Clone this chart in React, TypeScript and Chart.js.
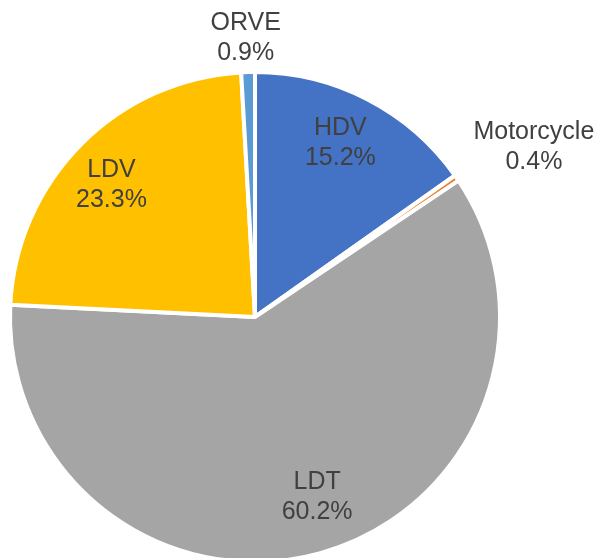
import React, { useEffect, useRef } from "react";
import { Chart, registerables } from "chart.js";

Chart.register(...registerables);

const categories = ["HDV", "Motorcycle", "LDT", "LDV", "ORVE"];
const values = [15.2, 0.4, 60.2, 23.3, 0.9];
const valueLabels = ["15.2%", "0.4%", "60.2%", "23.3%", "0.9%"];
const colors = ["#4472C4", "#ED7D31", "#A5A5A5", "#FFC000", "#5B9BD5"];
// label placement relative to slice: radius fraction and angle nudge (degrees)
const labelRadius = [0.79, 1.333, 0.776, 0.795, 1.14];
const labelAngleNudge = [-1.2, 3.2, -3.6, -2.3, -0.3];

const labelPlugin = {
  id: "sliceLabels",
  afterDatasetsDraw(chart: any) {
    const ctx = chart.ctx;
    const meta = chart.getDatasetMeta(0);
    ctx.save();
    ctx.font = '25px "Liberation Sans", Arial, sans-serif';
    ctx.fillStyle = "#404040";
    ctx.textAlign = "center";
    ctx.textBaseline = "middle";
    meta.data.forEach((arc: any, i: number) => {
      const p = arc.getProps(["x", "y", "startAngle", "endAngle", "outerRadius"], true);
      const mid = (p.startAngle + p.endAngle) / 2 + (labelAngleNudge[i] * Math.PI) / 180;
      const r = p.outerRadius * labelRadius[i];
      const cx = p.x + Math.cos(mid) * r;
      const cy = p.y + Math.sin(mid) * r;
      ctx.fillText(categories[i], cx, cy - 15);
      ctx.fillText(valueLabels[i], cx, cy + 15);
    });
    ctx.restore();
  },
};

export default function App() {
  const ref = useRef<HTMLCanvasElement>(null);
  useEffect(() => {
    document.body.style.margin = "0";
    const chart = new Chart(ref.current!, {
      type: "pie",
      data: {
        labels: categories,
        datasets: [
          {
            data: values,
            backgroundColor: colors,
            borderColor: "#ffffff",
            borderWidth: 4,
          },
        ],
      },
      options: {
        responsive: false,
        animation: false,
        radius: 245,
        layout: { padding: { left: 0, right: 88, top: 0, bottom: 6 } },
        plugins: {
          legend: { display: false },
          tooltip: { enabled: false },
        },
      },
      plugins: [labelPlugin],
    });
    return () => chart.destroy();
  }, []);
  return (
    <div style={{ width: 598, height: 558, overflow: "hidden", background: "#fff" }}>
      <canvas ref={ref} width={598} height={640} style={{ display: "block" }} />
    </div>
  );
}
